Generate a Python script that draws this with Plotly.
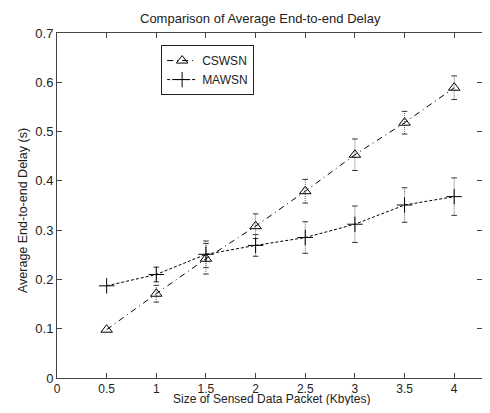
import plotly.graph_objects as go

sizes = [0.5, 1, 1.5, 2, 2.5, 3, 3.5, 4]
cswsn = [0.098, 0.171, 0.242, 0.308, 0.379, 0.453, 0.518, 0.589]
cswsn_err = [0.0, 0.017, 0.031, 0.025, 0.024, 0.032, 0.023, 0.024]
mawsn = [0.187, 0.210, 0.251, 0.269, 0.285, 0.312, 0.351, 0.368]
mawsn_err = [0.0, 0.015, 0.027, 0.022, 0.032, 0.037, 0.035, 0.038]

x_ticks = [0, 0.5, 1, 1.5, 2, 2.5, 3, 3.5, 4]
x_tick_text = ["0", "0.5", "1", "1.5", "2", "2.5", "3", "3.5", "4"]
y_ticks = [0, 0.1, 0.2, 0.3, 0.4, 0.5, 0.6, 0.7]
y_tick_text = ["0", "0.1", "0.2", "0.3", "0.4", "0.5", "0.6", "0.7"]

FONT = "Liberation Sans, Arial, sans-serif"
TXT = "#222222"

fig = go.Figure()


def err_traces(xs, ys, es):
    vx, vy, cx, cy = [], [], [], []
    for x, y, e in zip(xs, ys, es):
        if e <= 0:
            continue
        vx += [x, x, None]
        vy += [y - e, y + e, None]
        cx += [x, x]
        cy += [y - e, y + e]
    fig.add_trace(go.Scatter(x=vx, y=vy, mode="lines", showlegend=False,
                             line=dict(color="#666666", width=1, dash="1px,1px"),
                             hoverinfo="skip"))
    fig.add_trace(go.Scatter(x=cx, y=cy, mode="markers", showlegend=False,
                             marker=dict(symbol="line-ew-open", size=4, color="#333333",
                                         line=dict(color="#333333", width=1)),
                             hoverinfo="skip"))


err_traces(sizes, cswsn, cswsn_err)
err_traces(sizes, mawsn, mawsn_err)

fig.add_trace(go.Scatter(
    x=sizes, y=cswsn, name="CSWSN", mode="lines+markers",
    line=dict(color="black", width=1, dash="6px,4px,1px,4px"),
    marker=dict(symbol="triangle-up-open", size=10, color="black",
                line=dict(color="black", width=1)),
))
fig.add_trace(go.Scatter(
    x=sizes, y=mawsn, name="MAWSN", mode="lines+markers",
    line=dict(color="black", width=1, dash="3px,2px"),
    marker=dict(symbol="cross-thin-open", size=11, color="black",
                line=dict(color="black", width=1)),
))

axis_common = dict(
    showline=True, linecolor="#444444", linewidth=1, mirror="ticks",
    ticks="inside", ticklen=5, tickcolor="#444444", tickwidth=1,
    showgrid=False, zeroline=False,
)

# page body has an 8px margin: figure is sized/positioned to compensate
fig.update_layout(
    width=474, height=397,
    margin=dict(l=49, r=0, t=25, b=27),
    paper_bgcolor="white", plot_bgcolor="white",
    font=dict(family=FONT, size=12, color=TXT),
    xaxis=dict(range=[0, 4.28], tickvals=x_ticks, ticktext=x_tick_text,
               tickfont=dict(family=FONT, size=12, color=TXT), **axis_common),
    yaxis=dict(range=[0, 0.7], tickvals=y_ticks, ticktext=y_tick_text,
               tickfont=dict(family=FONT, size=13, color=TXT), **axis_common),
    legend=dict(x=0.245, y=0.965, xanchor="left", yanchor="top",
                bordercolor="#222222", borderwidth=1, bgcolor="white",
                font=dict(family=FONT, size=12, color=TXT),
                tracegroupgap=0, itemwidth=30),
    showlegend=True,
    annotations=[
        dict(text="Comparison of Average End-to-end Delay", xref="paper", yref="paper",
             x=0.478, y=1, yshift=15, showarrow=False, xanchor="center", yanchor="middle",
             font=dict(family=FONT, size=13, color=TXT)),
        dict(text="Size of Sensed Data Packet (Kbytes)", xref="paper", yref="paper",
             x=0.505, y=0, yshift=-21, showarrow=False, xanchor="center", yanchor="middle",
             font=dict(family=FONT, size=12, color=TXT)),
        dict(text="Average End-to-end Delay (s)", xref="paper", yref="paper",
             x=0, xshift=-34, y=0.484, showarrow=False, textangle=-90,
             xanchor="center", yanchor="middle",
             font=dict(family=FONT, size=12.5, color=TXT)),
    ],
)

fig.write_html("out.html")
